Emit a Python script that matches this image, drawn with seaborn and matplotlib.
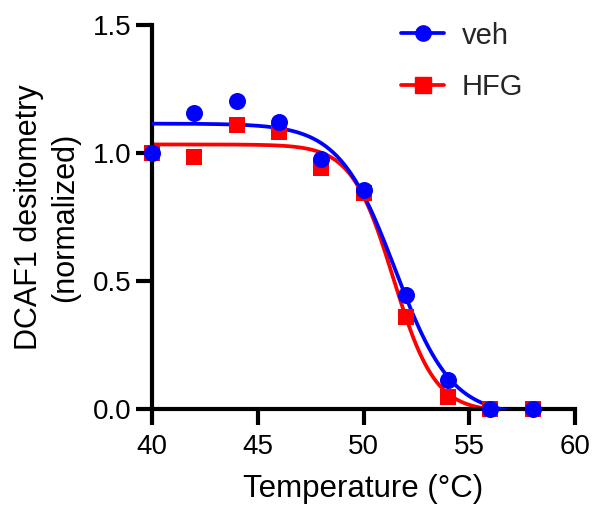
import numpy as np
import pandas as pd
import matplotlib
matplotlib.use("Agg")
import matplotlib.pyplot as plt
from matplotlib.lines import Line2D
import seaborn as sns

# ---- data ----
temperature = [40, 42, 44, 46, 48, 50, 52, 54, 56, 58]
veh = [1.00, 1.156, 1.203, 1.121, 0.977, 0.855, 0.444, 0.112, 0.0, 0.0]
hfg = [1.00, 0.986, 1.109, 1.083, 0.940, 0.845, 0.360, 0.048, 0.0, 0.0]
series_names = ["veh", "HFG"]
series_colors = ["#0000FF", "#FF0000"]
x_ticks = [40, 45, 50, 55, 60]
y_ticks = [0.0, 0.5, 1.0, 1.5]


# ---- Boltzmann sigmoid fit (least squares, numpy only) ----
def boltz(p, x):
    top, bottom, v50, s = p
    return bottom + (top - bottom) / (1.0 + np.exp((x - v50) / s))


def fit(x, y, p0):
    x = np.asarray(x, float)
    y = np.asarray(y, float)
    p = np.array(p0, float)
    lam = 1e-2
    def cost(pp):
        r = y - boltz(pp, x)
        return np.sum(r * r)
    c = cost(p)
    for _ in range(500):
        r = y - boltz(p, x)
        J = np.zeros((len(x), len(p)))
        for k in range(len(p)):
            dp = np.zeros_like(p)
            dp[k] = 1e-6 * max(1.0, abs(p[k]))
            J[:, k] = (boltz(p + dp, x) - boltz(p - dp, x)) / (2 * dp[k])
        A = J.T @ J
        g = J.T @ r
        step = np.linalg.solve(A + lam * np.diag(np.diag(A) + 1e-12), g)
        pn = p + step
        cn = cost(pn)
        if cn < c:
            p, c = pn, cn
            lam *= 0.3
        else:
            lam *= 10
        if np.linalg.norm(step) < 1e-10:
            break
    return p


rows = []
for name, vals in zip(series_names, [veh, hfg]):
    for t, v in zip(temperature, vals):
        rows.append({"Temperature": t, "value": v, "group": name})
df = pd.DataFrame(rows)

xs = np.linspace(min(temperature), max(temperature), 400)
curve_rows = []
for name, vals in zip(series_names, [veh, hfg]):
    p = fit(temperature, vals, [1.1, 0.0, 51.5, 1.0])
    for xv, yv in zip(xs, boltz(p, xs)):
        curve_rows.append({"Temperature": xv, "value": yv, "group": name})
curves = pd.DataFrame(curve_rows)

# ---- plotting ----
sns.set_theme(style="ticks")
plt.rcParams["font.family"] = ["Liberation Sans", "DejaVu Sans"]

fig = plt.figure(figsize=(5.97, 5.11), dpi=100)
ax = fig.add_axes([152 / 597, 1 - 409 / 511, (575 - 152) / 597, (409 - 25) / 511])

palette = dict(zip(series_names, series_colors))
markers = {"veh": "o", "HFG": "s"}

# red below blue
for name in ["HFG", "veh"]:
    sub = curves[curves["group"] == name]
    sns.lineplot(data=sub, x="Temperature", y="value", color=palette[name],
                 linewidth=2.7, ax=ax, legend=False, zorder=3 if name == "veh" else 2)
for name in ["HFG", "veh"]:
    sub = df[df["group"] == name]
    sns.scatterplot(data=sub, x="Temperature", y="value", color=palette[name],
                    marker=markers[name], s=150 if name == "veh" else 144,
                    linewidth=0, ax=ax, legend=False, clip_on=False,
                    zorder=5 if name == "veh" else 4)

ax.set_xlim(40, 60)
ax.set_ylim(0, 1.5)
ax.set_xticks(x_ticks)
ax.set_yticks(y_ticks)
ax.set_xticklabels([str(t) for t in x_ticks])
ax.set_yticklabels([f"{t:.1f}" for t in y_ticks])

for side in ["top", "right"]:
    ax.spines[side].set_visible(False)
for side in ["left", "bottom"]:
    ax.spines[side].set_linewidth(3.0)
    ax.spines[side].set_color("black")
    ax.spines[side].set_capstyle("projecting")

ax.tick_params(axis="both", direction="out", length=11.5, width=3.0,
               color="black", labelsize=20, labelcolor="black")
ax.tick_params(axis="y", pad=3)
ax.tick_params(axis="x", pad=6.5)

ax.set_xlabel("Temperature (°C)", fontsize=22.5, color="black")
ax.set_ylabel("DCAF1 desitometry\n(normalized)", fontsize=22, color="black",
              linespacing=1.25)
ax.xaxis.set_label_coords(0.5, -0.17)
ax.yaxis.set_label_coords(-0.17, 0.5)

handles = [
    Line2D([0], [0], color=series_colors[0], lw=2.7, marker="o", markersize=11),
    Line2D([0], [0], color=series_colors[1], lw=2.7, marker="s", markersize=11.5),
]
fig.legend(handles, series_names, loc="center left",
           bbox_to_anchor=(400.7 / 597, 1 - 61.2 / 511), frameon=False,
           fontsize=21, handlelength=1.5, handletextpad=0.6, labelspacing=0.8,
           borderpad=0, borderaxespad=0)

fig.savefig("out.png", dpi=100)
